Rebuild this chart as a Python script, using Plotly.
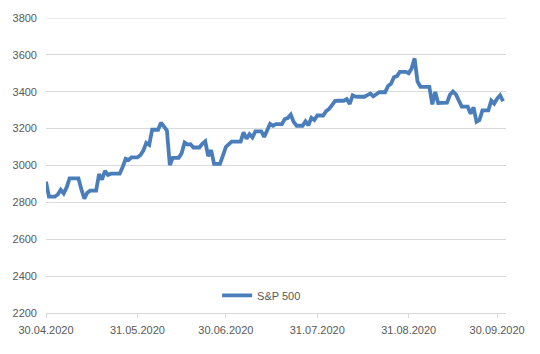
import pandas as pd
import plotly.graph_objects as go

# S&P 500 daily (calendar days, weekends/holidays carry the last close)
apr = [2912.43]
may = [2830.71, 2830.71, 2830.71, 2842.74, 2868.44, 2848.42, 2881.19, 2929.80, 2929.80, 2929.80,
       2930.32, 2870.12, 2820.00, 2852.50, 2863.70, 2863.70, 2863.70, 2953.91, 2922.94, 2971.61,
       2948.51, 2955.45, 2955.45, 2955.45, 2955.45, 2991.77, 3036.13, 3029.73, 3044.31, 3044.31,
       3044.31]
jun = [3055.73, 3080.82, 3122.87, 3112.35, 3193.93, 3193.93, 3193.93, 3232.39, 3207.18, 3190.14,
       3002.10, 3041.31, 3041.31, 3041.31, 3066.59, 3124.74, 3113.49, 3115.34, 3097.74, 3097.74,
       3097.74, 3117.86, 3131.29, 3050.33, 3083.76, 3009.05, 3009.05, 3009.05, 3053.24, 3100.29]
jul = [3115.86, 3130.01, 3130.01, 3130.01, 3130.01, 3179.72, 3145.32, 3169.94, 3152.05, 3185.04,
       3185.04, 3185.04, 3155.22, 3197.52, 3226.56, 3215.57, 3224.73, 3224.73, 3224.73, 3251.84,
       3257.30, 3276.02, 3235.66, 3215.63, 3215.63, 3215.63, 3239.41, 3218.44, 3258.44, 3246.22,
       3271.12]
aug = [3271.12, 3271.12, 3294.61, 3306.51, 3327.77, 3349.16, 3351.28, 3351.28, 3351.28, 3360.47,
       3333.69, 3380.35, 3373.43, 3372.85, 3372.85, 3372.85, 3381.99, 3389.78, 3374.85, 3385.51,
       3397.16, 3397.16, 3397.16, 3431.28, 3443.62, 3478.73, 3484.55, 3508.01, 3508.01, 3508.01,
       3500.31]
sep = [3526.65, 3580.84, 3455.06, 3426.96, 3426.96, 3426.96, 3426.96, 3331.84, 3398.96, 3339.19,
       3340.97, 3340.97, 3340.97, 3383.54, 3401.20, 3385.49, 3357.01, 3319.47, 3319.47, 3319.47,
       3281.06, 3315.57, 3236.92, 3246.59, 3298.46, 3298.46, 3298.46, 3351.60, 3335.47, 3363.00]
oct_ = [3380.80, 3348.44]

values = apr + may + jun + jul + aug + sep + oct_
dates = pd.date_range("2020-04-30", periods=len(values), freq="D")

tick_dates = ["2020-04-30", "2020-05-31", "2020-06-30", "2020-07-31", "2020-08-31", "2020-09-30"]
tick_labels = ["30.04.2020", "31.05.2020", "30.06.2020", "31.07.2020", "31.08.2020", "30.09.2020"]
y_min, y_max, y_step = 2200, 3800, 200

FONT = "Liberation Sans, Arial, sans-serif"
GREY = "#595959"
GRID = "#d9d9d9"

fig = go.Figure()
fig.add_trace(go.Scatter(
    x=dates, y=values, mode="lines", name="S&P 500",
    line=dict(color="#4A7EBB", width=3.8),
))

# top gridline (plotly drops the gridline sitting exactly on the range edge)
fig.add_shape(type="line", xref="paper", x0=0, x1=1, yref="y", y0=y_max, y1=y_max,
              line=dict(color=GRID, width=1), layer="below")

fig.update_layout(
    width=540, height=354,
    margin=dict(l=46, r=34, t=13, b=41),
    paper_bgcolor="white", plot_bgcolor="white",
    font=dict(family=FONT, size=11, color=GREY),
    showlegend=True,
    legend=dict(x=0.372, y=0.06, xanchor="left", yanchor="middle",
                bgcolor="rgba(0,0,0,0)", font=dict(family=FONT, size=11, color=GREY)),
    xaxis=dict(
        type="date", range=["2020-04-30", "2020-10-03"],
        tickvals=tick_dates, ticktext=tick_labels,
        showgrid=False, showline=True, linecolor=GRID, linewidth=1,
        ticks="outside", ticklen=4, tickcolor=GRID, ticklabelstandoff=3,
        tickfont=dict(family=FONT, size=11, color=GREY),
    ),
    yaxis=dict(
        range=[y_min, y_max], dtick=y_step, tick0=y_min,
        showgrid=True, gridcolor=GRID, gridwidth=1, zeroline=False, showline=False,
        ticklabelstandoff=8, ticklabeloverflow="allow",
        tickfont=dict(family=FONT, size=11, color=GREY),
    ),
)

# remove the default 8px page margin so the figure fills the window exactly
fig.write_html("out.html", config={"displayModeBar": False},
               post_script="document.body.style.margin='0';")
